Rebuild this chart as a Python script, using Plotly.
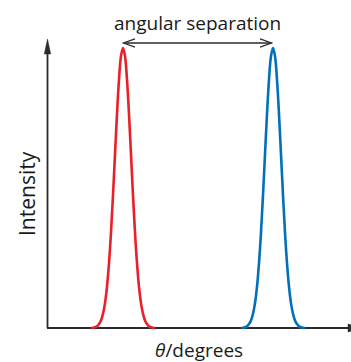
import plotly.graph_objects as go

# ---- data ----
peak_centers = [75, 225]          # theta position of each line (arbitrary degrees)
peak_colors = ["#e8202a", "#0070bb"]
peak_offsets = [-32, -30, -28, -26, -24, -22, -20, -18, -16, -14, -12, -10, -8, -6, -4, -2, 0,
                2, 4, 6, 8, 10, 12, 14, 16, 18, 20, 22, 24, 26, 28, 30, 32]
peak_profile = [0.0, 0.001, 0.003, 0.006, 0.014, 0.027, 0.051, 0.089, 0.148, 0.232, 0.341, 0.474,
                0.620, 0.764, 0.887, 0.971, 1.0, 0.971, 0.887, 0.764, 0.620, 0.474, 0.341, 0.232,
                0.148, 0.089, 0.051, 0.027, 0.014, 0.006, 0.003, 0.001, 0.0]

W, H = 351, 362
X0 = -48               # theta at left edge
Y_BASE_PX, Y_TOP_PX = 328, 48
span = (Y_BASE_PX - Y_TOP_PX)
yr0 = -(H - Y_BASE_PX) / span
yr1 = yr0 + H / span


def py(p):  # pixel row -> intensity units
    return (Y_BASE_PX - p) / span


def px(p):  # pixel column -> theta units
    return p + X0


fig = go.Figure()
for c, col in zip(peak_centers, peak_colors):
    fig.add_trace(go.Scatter(
        x=[c + o for o in peak_offsets], y=peak_profile, mode="lines",
        line=dict(color=col, width=2.6, shape="spline"), hoverinfo="skip",
        showlegend=False))

axc = "#2b2b2b"
shapes = [
    # y axis
    dict(type="line", x0=px(47.5), x1=px(47.5), y0=py(328), y1=py(50), line=dict(color=axc, width=1.8)),
    dict(type="path", path=f"M {px(47.5)} {py(39)} L {px(44.3)} {py(54)} L {px(50.7)} {py(54)} Z",
         fillcolor=axc, line=dict(color=axc, width=0.5)),
    # x axis
    dict(type="line", x0=px(47), x1=px(350), y0=py(328), y1=py(328), line=dict(color=axc, width=1.8)),
    dict(type="path", path=f"M {px(348)} {py(324)} L {px(362)} {py(328)} L {px(348)} {py(332)} Z",
         fillcolor=axc, line=dict(color=axc, width=0.5)),
    # double arrow
    dict(type="line", x0=px(123.5), x1=px(271.5), y0=py(43), y1=py(43), line=dict(color=axc, width=1.3)),
    dict(type="path", path=f"M {px(135)} {py(38.8)} L {px(123.5)} {py(43)} L {px(135)} {py(47.2)}",
         line=dict(color=axc, width=1.3)),
    dict(type="path", path=f"M {px(260)} {py(38.8)} L {px(271.5)} {py(43)} L {px(260)} {py(47.2)}",
         line=dict(color=axc, width=1.3)),
]
for s in shapes:
    s.update(xref="x", yref="y", layer="below")

font = "Open Sans"
annotations = [
    dict(text="angular separation", x=px(197), y=py(23), xref="x", yref="y", showarrow=False,
         font=dict(family=font, size=19, color="#1a1a1a")),
    dict(text="Intensity", x=px(27), y=py(194), xref="x", yref="y", showarrow=False, textangle=-90,
         font=dict(family=font, size=21, color="#1a1a1a")),
    dict(text="<i>θ</i>/degrees", x=px(199), y=py(350), xref="x", yref="y", showarrow=False,
         font=dict(family=font, size=19, color="#1a1a1a")),
]

fig.update_layout(
    width=W, height=H, margin=dict(l=0, r=0, t=0, b=0),
    paper_bgcolor="white", plot_bgcolor="white",
    xaxis=dict(range=[X0, X0 + W], visible=False, fixedrange=True),
    yaxis=dict(range=[yr0, yr1], visible=False, fixedrange=True),
    shapes=shapes, annotations=annotations, showlegend=False,
)
fig.write_html("out.html", config={"staticPlot": True},
               post_script="document.body.style.margin='0';document.body.style.overflow='hidden';")
